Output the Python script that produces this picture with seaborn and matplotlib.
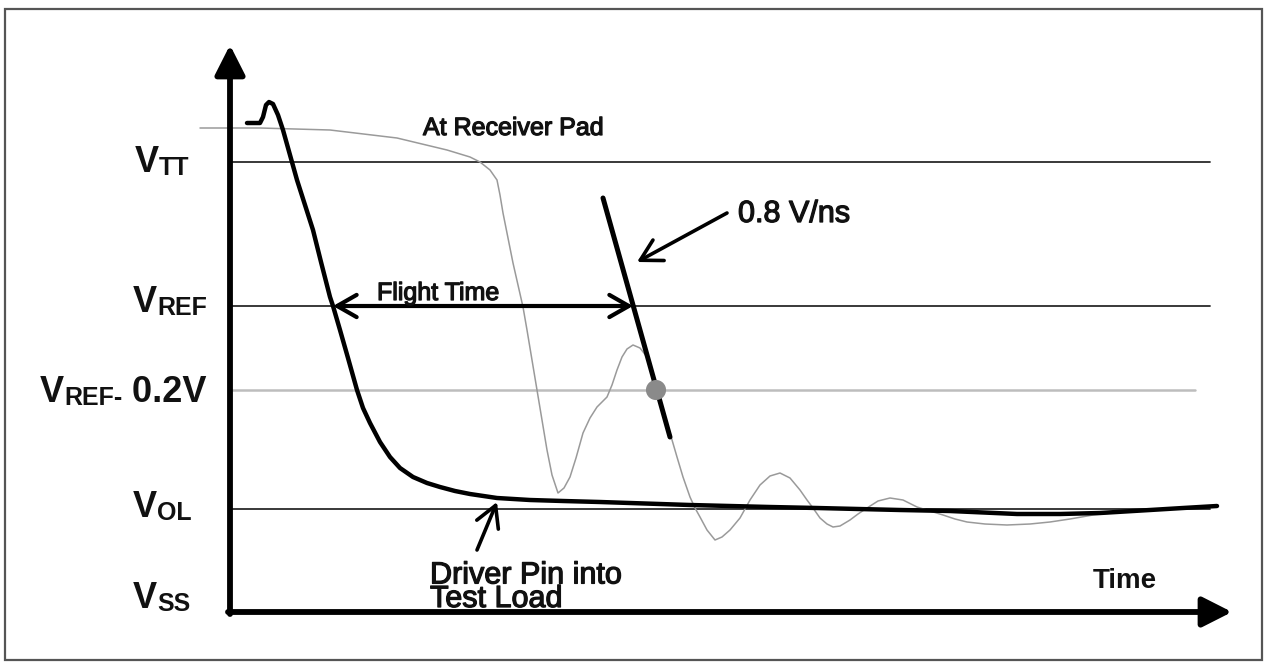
import matplotlib
matplotlib.use("Agg")
import matplotlib.pyplot as plt
import matplotlib.patheffects as pe
import seaborn as sns
import pandas as pd
from matplotlib.patches import Rectangle

# ---------------- data (time / voltage in arbitrary drawing units) ----------------
driver_t = [17, 30, 33, 36, 39, 43, 48, 53, 60, 67, 75, 83, 91, 100, 103, 110, 118, 127,
            133, 140, 150, 160, 170, 183, 197, 210, 225, 240, 267, 300, 333, 370, 400,
            460, 540, 587, 670, 720, 787, 830, 870, 920, 953, 987]
driver_v = [489, 489, 495, 507, 510, 508, 497, 482, 457, 432, 407, 382, 350, 315, 306, 282,
            254, 222, 204, 189, 170, 155, 144, 135, 129, 125, 121, 118, 114, 112, 111, 110,
            109, 107, 105, 104, 102, 101, 98, 98, 99, 102, 104, 106]

receiver_t = [-30, 30, 100, 167, 217, 240, 250, 260, 267, 270, 273, 278, 283, 288, 293, 297,
              302, 307, 312, 317, 322, 328, 334, 340, 346, 353, 360, 367, 373, 377, 382, 387,
              392, 397, 403, 410, 417, 422, 427, 433, 440, 447, 453, 460, 465, 470, 477, 485,
              492, 500, 510, 520, 530, 540, 550, 560, 570, 577, 583, 590, 597, 603, 610, 620,
              628, 637, 648, 660, 673, 687, 700, 713, 725, 737, 755, 777, 800, 820, 840, 863, 890]
receiver_v = [484, 484, 482, 474, 462, 455, 450, 442, 432, 417, 399, 374, 349, 327, 305, 282,
              252, 222, 192, 162, 137, 119, 124, 135, 154, 179, 194, 205, 211, 215, 227, 242,
              255, 263, 267, 264, 255, 242, 225, 202, 179, 155, 135, 115, 104, 95, 82, 72,
              75, 82, 94, 112, 127, 136, 139, 134, 122, 112, 104, 94, 88, 85, 86, 92,
              98, 104, 111, 114, 112, 105, 101, 97, 93, 90, 88, 87, 88, 90, 93, 97, 100]

level_names = ["VTT", "VREF", "VREF- 0.2V", "VOL", "VSS"]
level_values = [450, 306, 222, 103, 0]

slope_t = [373, 440]
slope_v = [414, 175]

point_t = [426]
point_v = [222]

# ---------------- figure ----------------
sns.set_theme(style="white")
plt.rcParams["font.family"] = ["Liberation Sans", "DejaVu Sans"]

fig = plt.figure(figsize=(12.67, 6.65), dpi=100)
ax = fig.add_axes([0, 0, 1, 1])
ax.set_xlim(-230, 1037)
ax.set_ylim(-53, 612)
ax.axis("off")

# border
fig.patches.append(Rectangle((5 / 1267, 5 / 665), 1257 / 1267, 651 / 665,
                             transform=fig.transFigure, fill=False,
                             edgecolor="#555555", lw=1.6))

# reference level lines
line_end = {"VTT": 980, "VREF": 980, "VREF- 0.2V": 965, "VOL": 980}
line_col = {"VTT": "#2a2a2a", "VREF": "#2a2a2a", "VREF- 0.2V": "#bdbdbd", "VOL": "#2a2a2a"}
line_lw = {"VTT": 1.3, "VREF": 1.3, "VREF- 0.2V": 1.8, "VOL": 1.3}
for name, val in zip(level_names, level_values):
    if name in line_end:
        df = pd.DataFrame({"t": [0, line_end[name]], "v": [val, val]})
        sns.lineplot(data=df, x="t", y="v", ax=ax, color=line_col[name],
                     lw=line_lw[name], sort=False)

# receiver waveform
rec = pd.DataFrame({"t": receiver_t, "v": receiver_v})
sns.lineplot(data=rec, x="t", y="v", ax=ax, color="#9a9a9a", lw=1.1, sort=False)

# driver waveform
drv = pd.DataFrame({"t": driver_t, "v": driver_v})
sns.lineplot(data=drv, x="t", y="v", ax=ax, color="black", lw=3.2, sort=False)

# slope line
sl = pd.DataFrame({"t": slope_t, "v": slope_v})
sns.lineplot(data=sl, x="t", y="v", ax=ax, color="black", lw=3.6, sort=False)

# measurement point
pt = pd.DataFrame({"t": point_t, "v": point_v})
sns.scatterplot(data=pt, x="t", y="v", ax=ax, color="#8a8a8a", s=210,
                edgecolor="none", zorder=5)

# axes arrows
axis_arrow = dict(arrowstyle="-|>,head_length=0.75,head_width=0.38", lw=4.2,
                  color="black", mutation_scale=24, shrinkA=0, shrinkB=0)
ax.annotate("", xy=(0, 567), xytext=(0, -2), arrowprops=axis_arrow)
ax.annotate("", xy=(1002, 0), xytext=(-2, 0), arrowprops=axis_arrow)

# flight time arrow
ax.annotate("", xy=(403, 306), xytext=(103, 306),
            arrowprops=dict(arrowstyle="<->,head_length=0.7,head_width=0.4", lw=3,
                            color="black", mutation_scale=20, shrinkA=0, shrinkB=0))

# pointer arrows
ptr = dict(arrowstyle="->,head_length=0.75,head_width=0.42", lw=2.6, color="black",
           mutation_scale=20, shrinkA=0, shrinkB=0)
ax.annotate("", xy=(407, 350), xytext=(497, 399), arrowprops=ptr)
ax.annotate("", xy=(267, 110), xytext=(247, 62), arrowprops=ptr)

# annotation text (slight stroke to mimic the medium weight of the original)
heavy = [pe.withStroke(linewidth=0.9, foreground="#111111")]
ax.text(193, 477, "At Receiver Pad", fontsize=18, ha="left", va="baseline",
        color="#111111", path_effects=heavy)
ax.text(147, 312, "Flight Time", fontsize=18, ha="left", va="baseline",
        color="#111111", path_effects=heavy)
ax.text(508, 390, "0.8 V/ns", fontsize=22, ha="left", va="baseline",
        color="#111111", path_effects=heavy)
ax.text(200, 5, "Driver Pin into\nTest Load", fontsize=22, ha="left", va="baseline",
        linespacing=0.72, color="#111111", path_effects=heavy)
ax.text(863, 24, "Time", fontsize=20, fontweight="bold", ha="left", va="baseline",
        color="#111111")

# level labels: big "V" + smaller suffix
label_pos = {"VTT": (-95, 440), "VREF": (-97, 300), "VREF- 0.2V": (-190, 210),
             "VOL": (-97, 95), "VSS": (-97, 4)}
for name in level_names:
    x, y = label_pos[name]
    big = ax.text(x, y, "V", fontsize=26, fontweight="bold", ha="left", va="baseline",
                  color="#111111")
    rest = name[1:]
    if name == "VREF- 0.2V":
        sub = ax.annotate("REF-", xy=(1, 0), xycoords=big, fontsize=18, fontweight="bold",
                          ha="left", va="bottom", color="#111111")
        ax.annotate(" 0.2V", xy=(1, 0), xycoords=sub, fontsize=26, fontweight="bold",
                    ha="left", va="bottom", color="#111111")
    else:
        ax.annotate(rest, xy=(1, 0), xycoords=big, fontsize=18, fontweight="bold",
                    ha="left", va="bottom", color="#111111")

fig.savefig("out.png", dpi=100)
